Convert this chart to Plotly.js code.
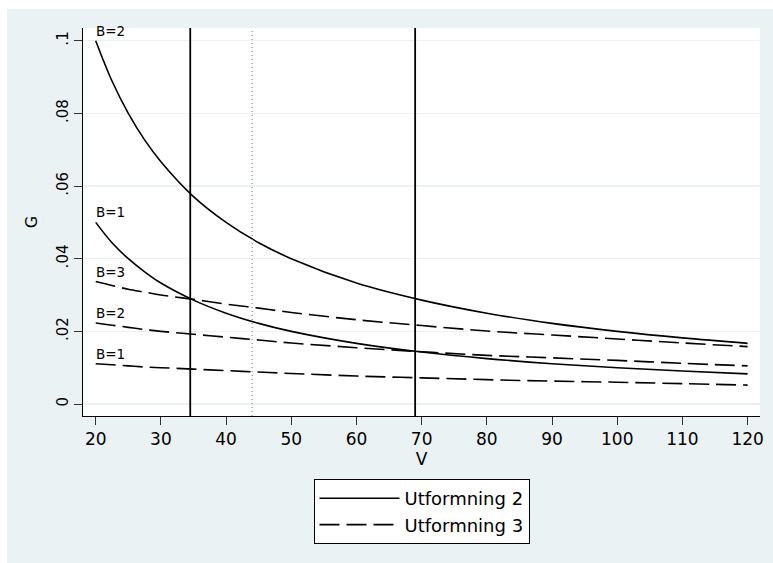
<!DOCTYPE html>
<html>
<head>
<meta charset="utf-8">
<script src="https://cdn.plot.ly/plotly-3.0.1.min.js"></script>
<style>html,body{margin:0;padding:0;background:#fff;overflow:hidden;}#chart{width:773px;height:563px;}</style>
</head>
<body>
<div id="chart"></div>
<script>
// ---- data ----
var V = [20, 22.5, 25, 27.5, 30, 35, 40, 45, 50, 60, 70, 80, 90, 100, 110, 120];
// Utformning 2 (solid)
var u2_B2 = [0.1000, 0.0889, 0.0800, 0.0727, 0.0667, 0.0571, 0.0500, 0.0444, 0.0400, 0.0333, 0.0286, 0.0250, 0.0222, 0.0200, 0.0182, 0.0167];
var u2_B1 = [0.0500, 0.0444, 0.0400, 0.0364, 0.0333, 0.0286, 0.0250, 0.0222, 0.0200, 0.0167, 0.0143, 0.0125, 0.0111, 0.0100, 0.0091, 0.0083];
// Utformning 3 (dashed)
var u3_B3 = [0.0337, 0.0326, 0.0316, 0.0308, 0.0300, 0.0288, 0.0275, 0.0264, 0.0252, 0.0232, 0.0216, 0.0201, 0.0190, 0.0179, 0.0168, 0.0158];
var u3_B2 = [0.0223, 0.0217, 0.0211, 0.0205, 0.0200, 0.0192, 0.0184, 0.0176, 0.0168, 0.0155, 0.0144, 0.0134, 0.0127, 0.0120, 0.0112, 0.0105];
var u3_B1 = [0.0111, 0.0108, 0.0105, 0.0102, 0.0100, 0.0096, 0.0092, 0.0088, 0.0084, 0.0077, 0.0072, 0.0067, 0.0063, 0.0060, 0.0056, 0.0052];
var seriesNames = ["Utformning 2", "Utformning 3"];
var curveLabels = ["B=2", "B=1", "B=3", "B=2", "B=1"];
var vlinesSolid = [34.5, 69];
var vlinesDotted = [44];
var xTicks = [20, 30, 40, 50, 60, 70, 80, 90, 100, 110, 120];
var yTicks = [0, 0.02, 0.04, 0.06, 0.08, 0.1];
var yTickText = ["0", ".02", ".04", ".06", ".08", ".1"];

// ---- styling ----
var FONT = "DejaVu Sans, Liberation Sans, Arial, sans-serif";
var BG = "#eaf2f3";
var solidLine = {color: "#000", width: 1.6, shape: "spline", smoothing: 1};
var dashLine = {color: "#000", width: 1.6, dash: "20px,7px", shape: "spline", smoothing: 1};

var curves = [
  {y: u2_B2, line: solidLine, name: seriesNames[0], group: "u2", show: true},
  {y: u2_B1, line: solidLine, name: seriesNames[0], group: "u2", show: false},
  {y: u3_B3, line: dashLine, name: seriesNames[1], group: "u3", show: true},
  {y: u3_B2, line: dashLine, name: seriesNames[1], group: "u3", show: false},
  {y: u3_B1, line: dashLine, name: seriesNames[1], group: "u3", show: false}
];

var traces = curves.map(function (c) {
  return {
    x: V, y: c.y, type: "scatter", mode: "lines",
    line: c.line, name: c.name, legendgroup: c.group, showlegend: c.show,
    hoverinfo: "x+y"
  };
});

var annotations = curves.map(function (c, i) {
  return {
    x: V[0], y: c.y[0], xref: "x", yref: "y",
    text: curveLabels[i], showarrow: false,
    xanchor: "left", yanchor: "bottom", xshift: -2, yshift: 0,
    font: {family: FONT, size: 13.5, color: "#000"}
  };
});

var shapes = [];
vlinesSolid.forEach(function (v) {
  shapes.push({type: "line", xref: "x", yref: "paper", x0: v, x1: v, y0: 0, y1: 1,
    line: {color: "#000", width: 1.8}});
});
vlinesDotted.forEach(function (v) {
  shapes.push({type: "line", xref: "x", yref: "paper", x0: v, x1: v, y0: 0, y1: 1,
    line: {color: "#777", width: 1, dash: "1px,3px"}});
});
// white frame strips at top and left of the figure (outside the grey region)
var PW = 677, PH = 388;
shapes.push({type: "rect", xref: "paper", yref: "paper", layer: "below",
  x0: -83 / PW, x1: (7 - 83) / PW, y0: -147 / PH, y1: 1 + 28 / PH,
  fillcolor: "#fff", line: {width: 0}});
shapes.push({type: "rect", xref: "paper", yref: "paper", layer: "below",
  x0: -83 / PW, x1: 1 + 13 / PW, y0: 1 + 19 / PH, y1: 1 + 28 / PH,
  fillcolor: "#fff", line: {width: 0}});

var layout = {
  width: 773, height: 563,
  paper_bgcolor: BG, plot_bgcolor: "#fff",
  margin: {l: 83, r: 13, t: 28, b: 147, pad: 0},
  font: {family: FONT, size: 17, color: "#000"},
  showlegend: true,
  xaxis: {
    range: [18.05, 121.9], tickvals: xTicks, ticktext: xTicks.map(String),
    ticks: "outside", ticklen: 8, tickwidth: 1, tickcolor: "#333",
    showline: true, linecolor: "#000", linewidth: 1, mirror: false,
    showgrid: false, zeroline: false,
    tickfont: {family: FONT, size: 17, color: "#000"},
    title: {text: "V", font: {family: FONT, size: 17, color: "#000"}, standoff: 4}
  },
  yaxis: {
    range: [-0.0033, 0.1035], tickvals: yTicks, ticktext: yTickText,
    tickangle: -90,
    ticks: "outside", ticklen: 8, tickwidth: 1, tickcolor: "#333",
    showline: true, linecolor: "#000", linewidth: 1,
    showgrid: true, gridcolor: BG, gridwidth: 1.2, zeroline: false,
    tickfont: {family: FONT, size: 15, color: "#000"},
    title: {text: "G", font: {family: FONT, size: 16, color: "#000"}, standoff: 12}
  },
  legend: {
    x: 0.5, xanchor: "center", y: -0.1624, yanchor: "top",
    orientation: "v", bgcolor: "#fff", bordercolor: "#000", borderwidth: 1,
    font: {family: FONT, size: 18, color: "#000"},
    itemwidth: 80, traceorder: "normal"
  },
  annotations: annotations,
  shapes: shapes
};

Plotly.newPlot("chart", traces, layout, {displayModeBar: false, staticPlot: true});
</script>
</body>
</html>
